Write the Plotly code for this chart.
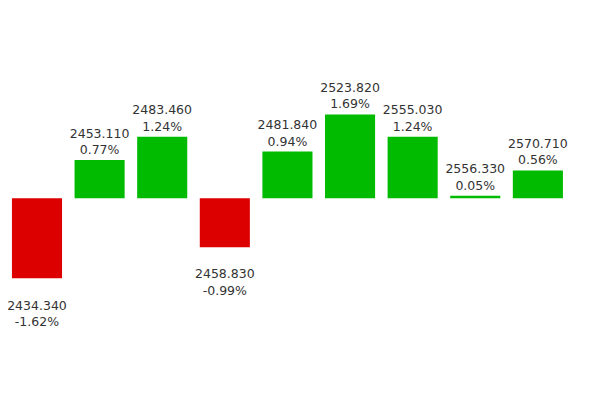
import plotly.graph_objects as go

# daily closes and % change (first bar is mostly off the left edge)
days = list(range(10))
closes = [2474.440, 2434.340, 2453.110, 2483.460, 2458.830,
          2481.840, 2523.820, 2555.030, 2556.330, 2570.710]
pct = [0.10, -1.62, 0.77, 1.24, -0.99, 0.94, 1.69, 1.24, 0.05, 0.56]

colors = ["#dd0000" if p < 0 else "#00bb00" for p in pct]
labels = []
for c, p in zip(closes, pct):
    t = "%.3f<br>%.2f%%" % (c, p)
    if p < 0:
        # labels under falling bars sit a line lower
        t = "&nbsp;<br>" + t
    labels.append(t)

fig = go.Figure(
    go.Bar(
        x=days,
        y=pct,
        width=0.8,
        marker=dict(color=colors, line=dict(width=0)),
        text=labels,
        textposition="outside",
        constraintext="none",
        cliponaxis=False,
        textfont=dict(family="DejaVu Sans", size=12.5, color="#333333"),
        hoverinfo="skip",
    )
)

fig.update_layout(
    width=600,
    height=410,
    margin=dict(l=0, r=0, t=0, b=0, autoexpand=False),
    paper_bgcolor="white",
    plot_bgcolor="white",
    showlegend=False,
)
# page body adds an 8px offset, ranges account for it
fig.update_xaxes(range=[0.537, 10.12], visible=False)
fig.update_yaxes(range=[-4.44, 3.84], visible=False)

fig.write_html("out.html")
